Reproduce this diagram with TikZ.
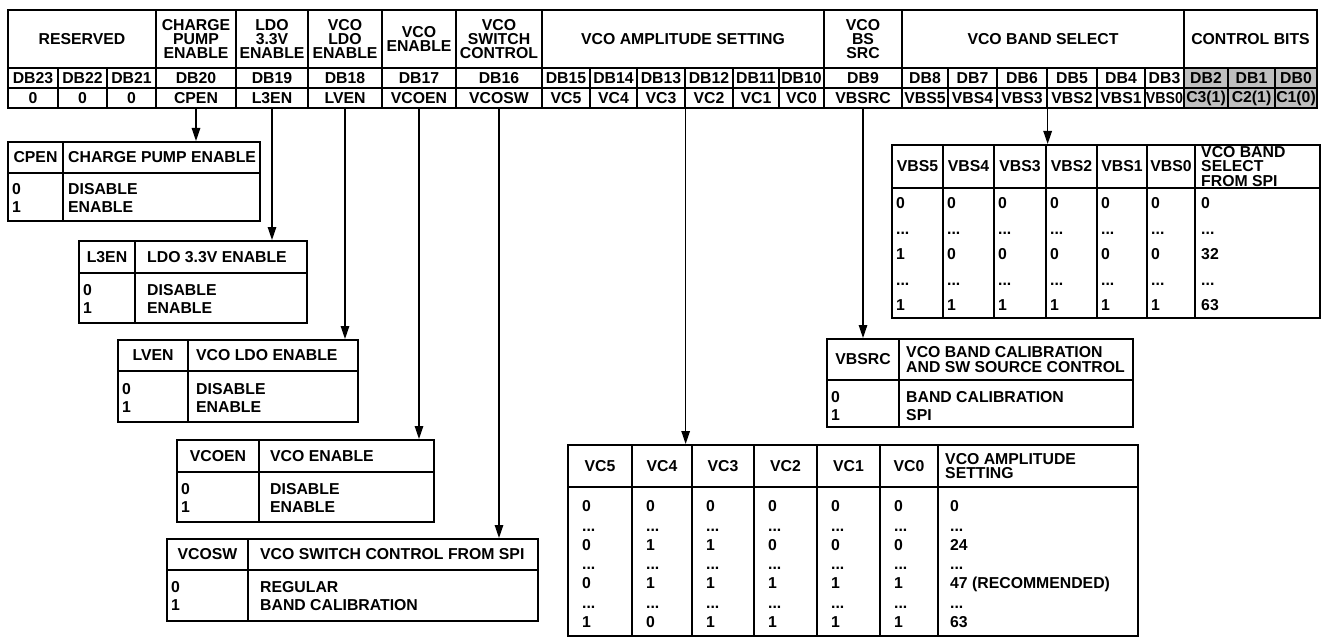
\documentclass[tikz,border=0pt]{standalone}
\usepackage{fontspec}
\usepackage{graphicx}
\setmainfont{Liberation Sans}
\usetikzlibrary{arrows.meta}
\newcommand{\fhd}{\bfseries\fontsize{15.8}{14}\selectfont}
\newcommand{\ftl}{\bfseries\fontsize{15.8}{14.2}\selectfont}
\newcommand{\fbd}{\bfseries\fontsize{15.8}{18}\selectfont}
\newcommand{\fvb}{\bfseries\fontsize{15.8}{25.5}\selectfont}
\newcommand{\fvc}{\bfseries\fontsize{15.8}{19.3}\selectfont}
\newcommand{\hcel}[7][hcell]{\node[#1, minimum width={(#4-#3)*1pt}, minimum height={(#6-#5)*1pt}] (#2) at ({(#3+#4)/2},{(#5+#6)/2}) {#7};}
\newcommand{\stab}[7]{%
  \node[tbox, minimum width={(#4-#2)*1pt}, minimum height={(#7-#5)*1pt}] (#1) at ({(#2+#4)/2},{(#5+#7)/2}) {};
  \draw[tline] (#2,#6) -- (#4,#6) (#3,#5) -- (#3,#7);}
\begin{document}
\begin{tikzpicture}[x=1pt,y=-1pt,
  hcell/.style={draw, line width=1.3pt, inner sep=0pt, align=center, font=\fhd},
  gcell/.style={hcell, fill=black!25},
  tbox/.style={draw, line width=2pt, inner sep=0pt},
  tline/.style={line width=1.3pt},
  hl/.style={inner sep=0pt, anchor=west, align=left, font=\ftl},
  hc/.style={inner sep=0pt, align=center, font=\ftl},
  bl/.style={inner sep=0pt, anchor=north west, align=left, font=\fbd},
  bvb/.style={inner sep=0pt, anchor=north west, align=left, font=\fvb},
  bvc/.style={inner sep=0pt, anchor=north west, align=left, font=\fvc},
  arr/.style={line width=1.3pt, -{Triangle[length=13pt,width=8.5pt]}}]
\useasboundingbox (0,0) rectangle (1322,639);

% ---------- register header ----------
\hcel{res}{8}{156}{10}{68}{RESERVED}
\hcel{hcpe}{156}{236}{10}{68}{CHARGE\\PUMP\\ENABLE}
\hcel{hldo}{236}{308}{10}{68}{LDO\\3.3V\\ENABLE}
\hcel{hvldo}{308}{382}{10}{68}{VCO\\LDO\\ENABLE}
\hcel{hven}{382}{456}{10}{68}{VCO\\ENABLE}
\hcel{hvsw}{456}{542}{10}{68}{VCO\\SWITCH\\CONTROL}
\hcel{hvamp}{542}{824}{10}{68}{VCO AMPLITUDE SETTING}
\hcel{hvbs}{824}{902}{10}{68}{VCO\\BS\\SRC}
\hcel{hvband}{902}{1184}{10}{68}{VCO BAND SELECT}
\hcel{hctrl}{1184}{1317}{10}{68}{CONTROL BITS}

\foreach \n/\a/\b/\t in {d23/8/58/DB23, d22/58/107/DB22, d21/107/156/DB21, d20/156/236/DB20, d19/236/308/DB19, d18/308/382/DB18, d17/382/456/DB17, d16/456/542/DB16, d15/542/590/DB15, d14/590/637/DB14, d13/637/685/DB13, d12/685/733/DB12, d11/733/779/DB11, d10/779/824/DB10, d9/824/902/DB9, d8/902/948/DB8, d7/948/997/DB7, d6/997/1047/DB6, d5/1047/1097/DB5, d4/1097/1145/DB4, d3/1145/1184/DB3}
  {\hcel{\n}{\a}{\b}{68}{88}{\t}}
\hcel[gcell]{d2}{1184}{1228}{68}{88}{DB2}
\hcel[gcell]{d1}{1228}{1275}{68}{88}{DB1}
\hcel[gcell]{d0}{1275}{1317}{68}{88}{DB0}

\foreach \n/\a/\b/\t in {r23/8/58/0, r22/58/107/0, r21/107/156/0, cpen/156/236/CPEN, l3en/236/308/L3EN, lven/308/382/LVEN, vcoen/382/456/VCOEN, vcosw/456/542/VCOSW, vc5/542/590/VC5, vc4/590/637/VC4, vc3/637/685/VC3, vc2/685/733/VC2, vc1/733/779/VC1, vc0/779/824/VC0, vbsrc/824/902/VBSRC, vbs5/902/948/VBS5, vbs4/948/997/VBS4, vbs3/997/1047/VBS3, vbs2/1047/1097/VBS2, vbs1/1097/1145/VBS1}
  {\hcel{\n}{\a}{\b}{88}{108}{\t}}
\hcel{vbs0}{1145}{1184}{88}{108}{\scalebox{0.9}[1]{VBS0}}
\hcel[gcell]{c3}{1184}{1228}{88}{108}{C3(1)}
\hcel[gcell]{c2}{1228}{1275}{88}{108}{C2(1)}
\hcel[gcell]{c1}{1275}{1317}{88}{108}{C1(0)}
\draw[line width=2.2pt] (8,10) rectangle (1317,108);

% ---------- CPEN ----------
\stab{tcpen}{8}{63}{260}{142}{173}{221}
\node[hc] (tcpen-k) at (35.5,157.5) {CPEN};
\node[hl] (tcpen-t) at (68,157.5) {CHARGE PUMP ENABLE};
\node[bl] (tcpen-v) at (12,183) {0\\1};
\node[bl] (tcpen-m) at (68,183) {DISABLE\\ENABLE};

% ---------- L3EN ----------
\stab{tl3en}{79}{135}{307}{241}{273}{323}
\node[hc] (tl3en-k) at (107,257) {L3EN};
\node[hl] (tl3en-t) at (147,257) {LDO 3.3V ENABLE};
\node[bl] (tl3en-v) at (83,284) {0\\1};
\node[bl] (tl3en-m) at (147,284) {DISABLE\\ENABLE};

% ---------- LVEN ----------
\stab{tlven}{118}{188}{358}{340}{371}{422}
\node[hc] (tlven-k) at (153,355.5) {LVEN};
\node[hl] (tlven-t) at (196,355.5) {VCO LDO ENABLE};
\node[bl] (tlven-v) at (122,383) {0\\1};
\node[bl] (tlven-m) at (196,383) {DISABLE\\ENABLE};

% ---------- VCOEN ----------
\stab{tvcoen}{177}{259}{434}{440}{472}{522}
\node[hc] (tvcoen-k) at (218,456) {VCOEN};
\node[hl] (tvcoen-t) at (270,456) {VCO ENABLE};
\node[bl] (tvcoen-v) at (181,483) {0\\1};
\node[bl] (tvcoen-m) at (270,483) {DISABLE\\ENABLE};

% ---------- VCOSW ----------
\stab{tvcosw}{167}{248}{538}{539}{570}{621}
\node[hc] (tvcosw-k) at (207.5,554.5) {VCOSW};
\node[hl] (tvcosw-t) at (260,554.5) {VCO SWITCH CONTROL FROM SPI};
\node[bl] (tvcosw-v) at (171,581) {0\\1};
\node[bl] (tvcosw-m) at (260,581) {REGULAR\\BAND CALIBRATION};

% ---------- VBSRC ----------
\stab{tvbsrc}{827}{899}{1133}{339}{380}{427}
\node[hc] (tvbsrc-k) at (863,359.5) {VBSRC};
\node[hl] (tvbsrc-t) at (906,359.5) {VCO BAND CALIBRATION\\AND SW SOURCE CONTROL};
\node[bl] (tvbsrc-v) at (831,391) {0\\1};
\node[bl] (tvbsrc-m) at (906,391) {BAND CALIBRATION\\SPI};

% ---------- VCO band select ----------
\node[tbox, minimum width=428pt, minimum height=173pt] (tvbs) at (1106,231.5) {};
\draw[tline] (892,188) -- (1320,188);
\foreach \x in {943,994,1046,1097,1147,1195} \draw[tline] (\x,145) -- (\x,318);
\foreach \n/\x/\t in {k5/917.5/VBS5, k4/968.5/VBS4, k3/1020/VBS3, k2/1071.5/VBS2, k1/1122/VBS1, k0/1171/VBS0}
  \node[hc] (tvbs-\n) at (\x,166.5) {\t};
\node[hl] (tvbs-t) at (1201,166.5) {VCO BAND\\SELECT\\FROM SPI};
\foreach \n/\x/\t in {v5/896/{0\\...\\1\\...\\1}, v4/947/{0\\...\\0\\...\\1}, v3/998/{0\\...\\0\\...\\1}, v2/1050/{0\\...\\0\\...\\1}, v1/1101/{0\\...\\0\\...\\1}, v0/1151/{0\\...\\0\\...\\1}, vs/1201/{0\\...\\32\\...\\63}}
  \node[bvb] (tvbs-\n) at (\x,197.5) {\t};

% ---------- VCO amplitude ----------
\node[tbox, minimum width=570pt, minimum height=191pt] (tvc) at (853,540.5) {};
\draw[tline] (568,487) -- (1138,487);
\foreach \x in {632,692,754,817,880,938} \draw[tline] (\x,445) -- (\x,636);
\foreach \n/\x/\t in {k5/600/VC5, k4/662/VC4, k3/723/VC3, k2/785.5/VC2, k1/848.5/VC1, k0/909/VC0}
  \node[hc] (tvc-\n) at (\x,466) {\t};
\node[hl] (tvc-t) at (945,466) {VCO AMPLITUDE\\SETTING};
\foreach \n/\x/\t in {v5/582/{0\\...\\0\\...\\0\\...\\1}, v4/646/{0\\...\\1\\...\\1\\...\\0}, v3/706/{0\\...\\1\\...\\1\\...\\1}, v2/768/{0\\...\\0\\...\\1\\...\\1}, v1/831/{0\\...\\0\\...\\1\\...\\1}, v0/894/{0\\...\\0\\...\\1\\...\\1}, vs/950/{0\\...\\24\\...\\47 (RECOMMENDED)\\...\\63}}
  \node[bvc] (tvc-\n) at (\x,500.5) {\t};

% ---------- connectors ----------
\draw[arr] (cpen.south) -- (cpen.south |- tcpen.north);
\draw[arr] (l3en.south) -- (l3en.south |- tl3en.north);
\draw[arr] (lven.south) -- (lven.south |- tlven.north);
\draw[arr] (vcoen.south) -- (vcoen.south |- tvcoen.north);
\draw[arr] (vcosw.south) -- (vcosw.south |- tvcosw.north);
\draw[arr] (vc3.south east) -- (vc3.south east |- tvc.north);
\draw[arr] (vbsrc.south) -- (vbsrc.south |- tvbsrc.north);
\draw[arr] (vbs3.south east) -- (vbs3.south east |- tvbs.north);
\end{tikzpicture}
\end{document}
